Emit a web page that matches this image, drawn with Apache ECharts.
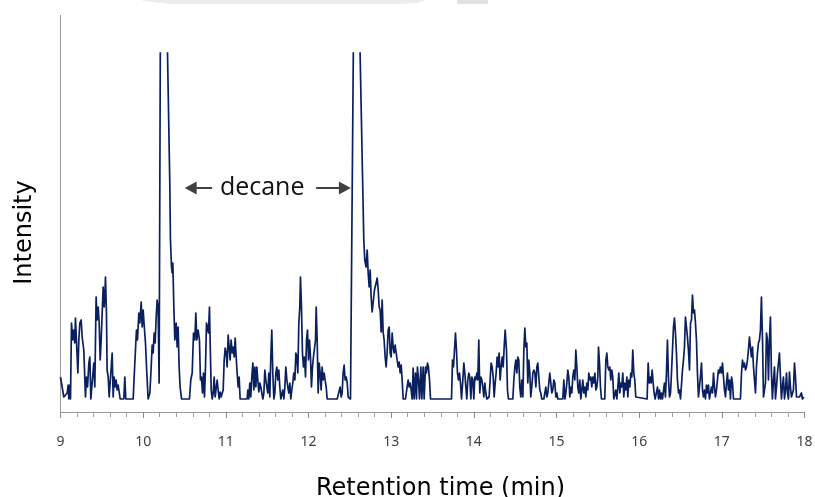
<!DOCTYPE html>
<html>
<head>
<meta charset="utf-8">
<script src="https://cdn.jsdelivr.net/npm/echarts/dist/echarts.min.js"></script>
<style>
html,body{margin:0;padding:0;background:#fff;}
#chart{width:815px;height:497px;}
</style>
</head>
<body>
<div id="chart"></div>
<script>
// x-axis tick labels (retention time, min)
const xTickLabels = ['9','10','11','12','13','14','15','16','17','18'];

// chromatogram trace: [retention time (min), intensity (arb. units)]
const signal = [
[9.000,35],[9.020,25],[9.040,15],[9.060,13],[9.081,19],[9.093,27],[9.101,13],[9.113,27],[9.121,13],[9.133,89],
[9.149,72],[9.161,82],[9.173,69],[9.181,94],[9.198,62],[9.210,39],[9.222,72],[9.234,89],[9.250,92],[9.262,75],
[9.282,62],[9.302,15],[9.314,35],[9.327,25],[9.343,49],[9.355,55],[9.367,13],[9.383,29],[9.403,49],[9.415,25],
[9.431,115],[9.443,92],[9.456,105],[9.468,89],[9.480,52],[9.492,72],[9.504,72],[9.516,125],[9.528,105],[9.536,115],
[9.544,135],[9.556,99],[9.564,42],[9.577,35],[9.589,15],[9.601,13],[9.613,15],[9.625,59],[9.637,15],[9.649,35],
[9.661,25],[9.673,32],[9.685,22],[9.697,27],[9.710,25],[9.722,13],[9.766,13],[9.778,35],[9.790,13],[9.879,13],
[9.899,49],[9.919,82],[9.931,72],[9.948,99],[9.960,89],[9.976,110],[9.988,85],[10.000,102],[10.012,87],[10.028,69],
[10.044,39],[10.060,13],[10.081,19],[10.097,45],[10.109,67],[10.121,59],[10.133,79],[10.145,69],[10.157,94],[10.169,112],
[10.181,105],[10.193,29],[10.222,700],[10.322,229],[10.330,172],[10.343,145],[10.351,139],[10.359,149],[10.371,105],[10.383,72],
[10.399,89],[10.411,65],[10.423,85],[10.435,45],[10.447,25],[10.464,13],[10.560,13],[10.576,32],[10.593,39],[10.609,79],
[10.625,72],[10.637,99],[10.649,72],[10.665,82],[10.681,72],[10.693,32],[10.705,35],[10.718,19],[10.730,39],[10.742,15],
[10.754,45],
[10.766,89],[10.778,89],[10.790,79],[10.802,105],[10.810,72],[10.823,22],[10.835,13],[10.847,19],[10.859,35],[10.871,15],
[10.883,13],[10.895,32],[10.907,22],[10.919,13],[10.931,20],[10.943,15],[10.956,13],[10.968,22],[10.980,52],[10.992,64],
[11.004,59],[11.016,45],[11.028,77],[11.040,65],[11.052,52],[11.064,72],[11.077,59],[11.089,65],[11.101,55],[11.113,74],
[11.125,55],[11.137,39],[11.149,25],[11.161,35],[11.173,13],[11.258,13],[11.266,22],[11.278,13],[11.290,29],[11.302,15],
[11.314,35],[11.327,49],[11.339,22],[11.351,45],[11.363,25],[11.375,45],[11.387,32],[11.399,20],[11.411,29],[11.423,25],
[11.435,19],[11.448,13],[11.460,19],[11.472,42],[11.484,32],[11.496,25],[11.508,19],[11.520,39],[11.532,15],[11.544,55],
[11.556,82],[11.568,39],[11.581,13],[11.593,19],[11.605,39],[11.617,45],[11.629,32],[11.641,42],[11.653,25],[11.665,13],
[11.677,15],[11.689,22],[11.702,13],[11.714,25],[11.726,45],[11.738,32],[11.750,25],[11.762,19],[11.774,29],[11.786,13],
[11.798,22],[11.810,29],[11.822,39],[11.835,32],[11.847,59],[11.859,55],[11.871,39],[11.883,89],[11.895,105],[11.903,135],
[11.915,105],[11.927,59],[11.939,45],[11.951,55],[11.964,35],[11.976,72],[11.988,82],[12.000,52],[12.012,72],[12.024,55],
[12.036,25],[12.048,45],[12.060,55],[12.072,55],[12.085,72],[12.093,105],[12.105,72],[12.117,19],[12.129,49],[12.141,39],
[12.153,22],[12.165,45],[12.177,32],[12.189,39],[12.201,32],[12.214,25],[12.226,13],[12.347,13],[12.359,15],[12.371,13],
[12.383,25],[12.395,15],[12.407,19],[12.419,39],[12.431,47],[12.443,32],[12.456,35],[12.468,29],[12.480,15],[12.492,13],
[12.508,13],[12.520,15],[12.566,600],[12.669,172],
[12.681,152],[12.697,145],[12.710,162],[12.722,139],[12.734,125],[12.746,142],[12.758,115],[12.770,100],[12.786,99],[12.798,122],
[12.818,129],[12.831,134],[12.843,122],[12.855,105],[12.867,102],[12.879,80],[12.891,112],[12.903,80],[12.915,72],[12.927,55],
[12.939,45],[12.951,59],[12.964,82],[12.976,85],[12.988,59],[13.000,55],[13.012,79],[13.024,65],[13.036,59],[13.048,67],
[13.060,65],[13.072,52],[13.085,45],[13.097,50],[13.109,39],[13.121,47],[13.133,32],[13.145,13],[13.157,15],[13.173,13],
[13.193,25],[13.205,32],[13.218,25],[13.230,29],[13.242,22],[13.254,13],[13.266,44],[13.278,13],[13.294,39],[13.306,13],
[13.318,45],[13.331,32],[13.343,13],[13.359,45],[13.371,13],[13.387,45],[13.399,13],[13.415,45],[13.427,39],[13.439,49],
[13.451,45],[13.464,32],[13.476,13],[13.730,13],[13.742,52],[13.754,45],[13.766,62],[13.778,79],[13.790,62],[13.802,39],
[13.814,32],[13.826,39],[13.839,29],[13.851,13],[13.867,32],[13.879,49],[13.891,39],[13.903,25],[13.915,13],[13.927,32],
[13.939,39],[13.951,35],[13.964,13],[13.976,35],[13.988,32],[14.000,13],[14.012,35],[14.024,32],[14.036,39],[14.048,32],
[14.060,72],[14.072,19],[14.085,35],[14.097,32],[14.109,25],[14.121,15],[14.133,29],[14.145,19],[14.157,13],[14.173,13],
[14.185,15],[14.197,32],[14.209,49],[14.222,45],[14.234,35],[14.246,15],[14.258,29],[14.270,39],[14.282,55],[14.294,45],
[14.306,59],[14.318,32],[14.330,45],[14.343,55],[14.355,45],[14.367,65],[14.379,82],[14.395,62],[14.407,22],[14.419,13],
[14.472,13],[14.484,32],[14.496,45],[14.508,52],[14.520,39],[14.532,55],[14.544,52],[14.556,25],[14.568,15],[14.580,32],
[14.593,15],[14.605,62],[14.617,84],[14.629,65],[14.641,69],[14.653,29],[14.665,52],[14.677,39],[14.689,15],[14.701,25],
[14.714,39],[14.726,42],[14.738,39],[14.750,25],[14.762,45],[14.774,49],[14.786,35],[14.798,22],[14.810,19],[14.822,13],
[14.834,15],[14.847,13],[14.859,19],[14.871,25],[14.883,15],[14.895,19],[14.907,29],[14.919,39],[14.931,39],[14.943,19],
[14.955,22],[14.968,32],[14.980,29],[14.992,15],[15.004,19],[15.016,13],[15.076,13],[15.089,32],[15.101,13],[15.113,19],
[15.125,29],[15.137,42],[15.149,35],[15.161,15],[15.173,25],[15.185,19],[15.197,35],[15.209,42],[15.222,32],[15.234,62],
[15.246,45],[15.258,25],[15.270,19],[15.282,32],[15.294,13],[15.306,22],[15.318,32],[15.330,19],[15.343,25],[15.355,15],
[15.367,29],[15.379,22],[15.391,39],[15.403,32],[15.415,35],[15.427,25],[15.439,35],[15.451,29],[15.464,39],[15.476,22],
[15.488,25],[15.500,35],[15.508,65],[15.520,49],[15.532,25],[15.544,13],[15.584,13],[15.597,52],[15.609,59],[15.621,45],
[15.633,42],[15.645,45],[15.657,32],[15.669,42],[15.681,35],[15.693,13],[15.705,15],[15.717,22],[15.730,13],[15.742,25],
[15.754,39],[15.766,19],[15.778,29],[15.790,25],[15.802,39],[15.814,15],[15.826,29],[15.838,22],[15.851,35],[15.863,15],
[15.875,32],[15.887,25],[15.899,39],[15.911,35],[15.923,62],[15.935,39],[15.947,32],[15.959,15],[15.972,13],[16.096,13],
[16.109,49],[16.121,29],[16.133,35],[16.145,29],[16.157,42],[16.169,29],[16.181,19],[16.193,13],[16.209,15],[16.222,25],
[16.234,13],[16.246,22],[16.258,13],[16.270,19],[16.282,13],[16.294,13],[16.306,29],[16.318,15],[16.330,39],[16.342,72],
[16.355,32],[16.367,15],[16.379,19],[16.391,39],[16.403,62],[16.415,85],[16.427,94],[16.439,79],[16.451,59],[16.463,32],
[16.476,19],[16.488,22],[16.500,13],[16.512,15],[16.524,42],[16.536,52],[16.548,65],[16.560,95],[16.572,85],[16.584,75],
[16.596,62],[16.609,42],[16.621,89],[16.633,92],[16.645,117],[16.657,99],[16.669,102],[16.681,89],[16.693,72],[16.705,39],
[16.717,15],[16.729,25],[16.741,35],[16.754,49],[16.766,22],[16.778,15],[16.790,22],[16.802,13],[16.814,27],[16.826,19],
[16.838,27],[16.850,13],[16.863,15],[16.875,25],[16.887,19],[16.899,39],[16.911,25],[16.923,15],[16.935,22],[16.947,32],
[16.959,42],[16.971,39],[16.983,45],[16.996,39],[17.008,49],[17.020,35],[17.032,22],[17.044,15],[17.056,29],[17.068,39],
[17.080,22],[17.092,32],[17.104,13],[17.117,35],[17.129,29],[17.141,13],[17.225,13],[17.238,39],[17.250,52],[17.262,45],
[17.274,49],[17.286,42],[17.298,45],[17.310,52],[17.322,62],[17.334,75],[17.346,65],[17.358,55],[17.371,65],[17.383,45],
[17.395,32],[17.407,19],[17.419,45],[17.431,59],[17.443,69],[17.455,72],[17.467,82],[17.479,115],[17.492,72],[17.504,15],
[17.516,13],[17.528,29],[17.540,79],[17.552,72],[17.564,32],[17.576,72],[17.588,95],[17.600,39],[17.612,13],[17.625,32],
[17.637,45],[17.649,13],[17.661,25],[17.673,39],[17.685,49],[17.697,59],[17.709,35],[17.721,13],[17.733,25],[17.745,35],
[17.758,13],[17.770,22],[17.782,39],[17.794,19],[17.806,13],[17.818,40],[17.830,25],[17.842,15],[17.854,13],[17.866,22],
[17.879,49],[17.891,35],[17.903,15],[17.915,13],[17.939,15],[17.951,13],[17.963,19],[17.975,13],[17.992,15]
];

// annotation: label and the two arrows pointing at the decane peaks (time, intensity)
const annotationLabel = 'decane';
const annotationLabelAt = [11.44, 224];
const leftArrow = [[10.834, 224], [10.575, 224]];
const rightArrow = [[12.093, 224], [12.440, 224]];

const chart = echarts.init(document.getElementById('chart'), null, {renderer: 'canvas'});
chart.setOption({
  animation: false,
  backgroundColor: '#ffffff',
  grid: {left: 60.5, right: 10.5, top: 53, bottom: 85, containLabel: false, outerBoundsMode: 'none'},
  xAxis: {
    type: 'value', min: 9, max: 18, interval: 1,
    name: 'Retention time (min)', nameLocation: 'middle', nameGap: 65,
    nameTextStyle: {fontFamily: 'DejaVu Sans', fontSize: 24, color: '#000000', padding: [0, 0, 0, 16]},
    axisLine: {show: true, onZero: false, lineStyle: {color: '#9a9a9a', width: 1}},
    axisTick: {show: true, length: 6, lineStyle: {color: '#8a8a8a', width: 1}},
    minorTick: {show: true, splitNumber: 5, length: 5, lineStyle: {color: '#a0a0a0', width: 1}},
    axisLabel: {
      margin: 23, fontFamily: 'Noto Sans', fontSize: 14, color: '#404040',
      formatter: function (v) { const i = Math.round(v - 9); return xTickLabels[i] !== undefined ? xTickLabels[i] : ''; }
    },
    splitLine: {show: false}, minorSplitLine: {show: false}
  },
  yAxis: {
    type: 'value', min: 0, max: 359,
    name: 'Intensity', nameLocation: 'middle', nameGap: 24, nameRotate: 90,
    nameTextStyle: {fontFamily: 'DejaVu Sans', fontSize: 24, color: '#000000'},
    axisLine: {show: true, lineStyle: {color: '#9a9a9a', width: 1}},
    axisTick: {show: false}, axisLabel: {show: false}, splitLine: {show: false}
  },
  series: [{
    type: 'line',
    data: signal,
    symbol: 'none',
    clip: true,
    lineStyle: {color: '#0a1f5e', width: 1.7, join: 'round'},
    markLine: {
      silent: true,
      symbol: ['none', 'triangle'],
      symbolSize: [13, 12],
      label: {show: false},
      lineStyle: {color: '#404040', width: 2, type: 'solid'},
      data: [
        [{coord: leftArrow[0]}, {coord: leftArrow[1]}],
        [{coord: rightArrow[0]}, {coord: rightArrow[1]}]
      ]
    },
    markPoint: {
      silent: true,
      symbol: 'circle', symbolSize: 0,
      label: {show: true, position: 'inside', formatter: annotationLabel,
        fontFamily: 'Open Sans', fontSize: 25, color: '#111111'},
      data: [{coord: annotationLabelAt}]
    }
  }],
  graphic: [
    {type: 'line', silent: true, shape: {x1: 60.5, y1: 15, x2: 60.5, y2: 53}, style: {stroke: '#9a9a9a', lineWidth: 1}},
    {type: 'polygon', silent: true, shape: {points: [[140,0],[426,0],[418,3],[400,4],[172,4],[152,2]]}, style: {fill: '#ececec'}},
    {type: 'rect', silent: true, shape: {x: 457, y: 0, width: 31, height: 4}, style: {fill: '#e2e2e2'}}
  ]
});
</script>
</body>
</html>
